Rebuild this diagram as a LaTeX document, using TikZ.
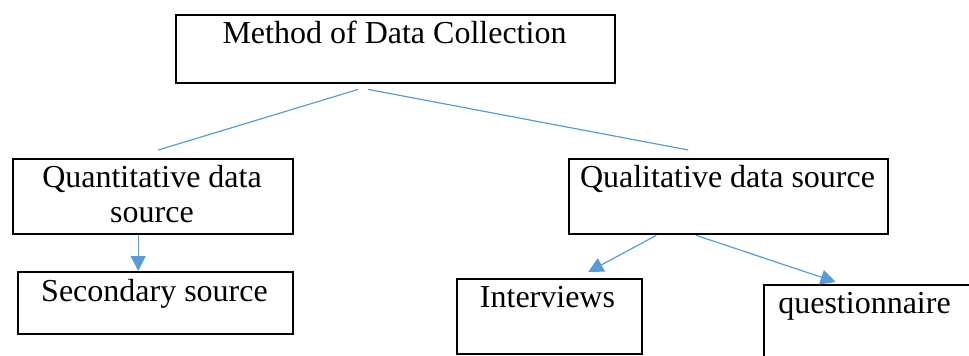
\documentclass[tikz,border=0pt]{standalone}
\usepackage{fontspec}
\setmainfont{Liberation Serif}
\usetikzlibrary{arrows.meta,calc}
\definecolor{linkblue}{RGB}{91,155,213}
\tikzset{
  box/.style={draw=black, line width=2.4pt, inner sep=0pt, anchor=north west},
  txt/.style={font=\fontsize{32}{35}\selectfont, inner sep=0pt, anchor=base, align=center},
  link/.style={draw=linkblue, line width=1.2pt},
  arr/.style={link, -{Triangle[width=15pt,length=15pt,fill=linkblue]}}
}
\begin{document}
\begin{tikzpicture}[x=1pt,y=-1pt]
\useasboundingbox (0,0) rectangle (969,356);
% boxes
\node[box, minimum width=439pt, minimum height=68pt] (m) at (175,14) {};
\node[box, minimum width=280pt, minimum height=75pt] (qn) at (12,158) {};
\node[box, minimum width=275pt, minimum height=62pt] (sec) at (17,271) {};
\node[box, minimum width=319pt, minimum height=75pt] (ql) at (568,158) {};
\node[box, minimum width=185pt, minimum height=75pt] (int) at (456,278) {};
\node[box, minimum width=300pt, minimum height=90pt] (qs) at (763,284) {};
% texts
\node[txt] (tm) at (394.5,43) {Method of Data Collection};
\node[txt] (tqn1) at (152,187) {Quantitative data};
\node[txt] (tqn2) at (152,222) {source};
\node[txt] (tsec) at (154.5,301) {Secondary source};
\node[txt] (tql) at (727.5,187) {Qualitative data source};
\node[txt] (tint) at (547.5,307) {Interviews};
\node[txt] (tqs) at (864.5,313) {questionnaire};
% connectors
\draw[link] ($(m.south)+(-37.5,5)$) -- ($(qn.north)+(5,-8)$);
\draw[link] ($(m.south)+(-27.5,5)$) -- ($(ql.north)+(-40.5,-8)$);
\draw[arr] ($(qn.south)+(-15,0)$) -- ($(sec.north)+(-17.5,0)$);
\draw[arr] ($(ql.south)+(-72.5,0)$) -- ($(int.north)+(38.5,-6)$);
\draw[arr] ($(ql.south)+(-32.5,0)$) -- ($(qs.north)+(-78.5,-2)$);
\end{tikzpicture}
\end{document}
